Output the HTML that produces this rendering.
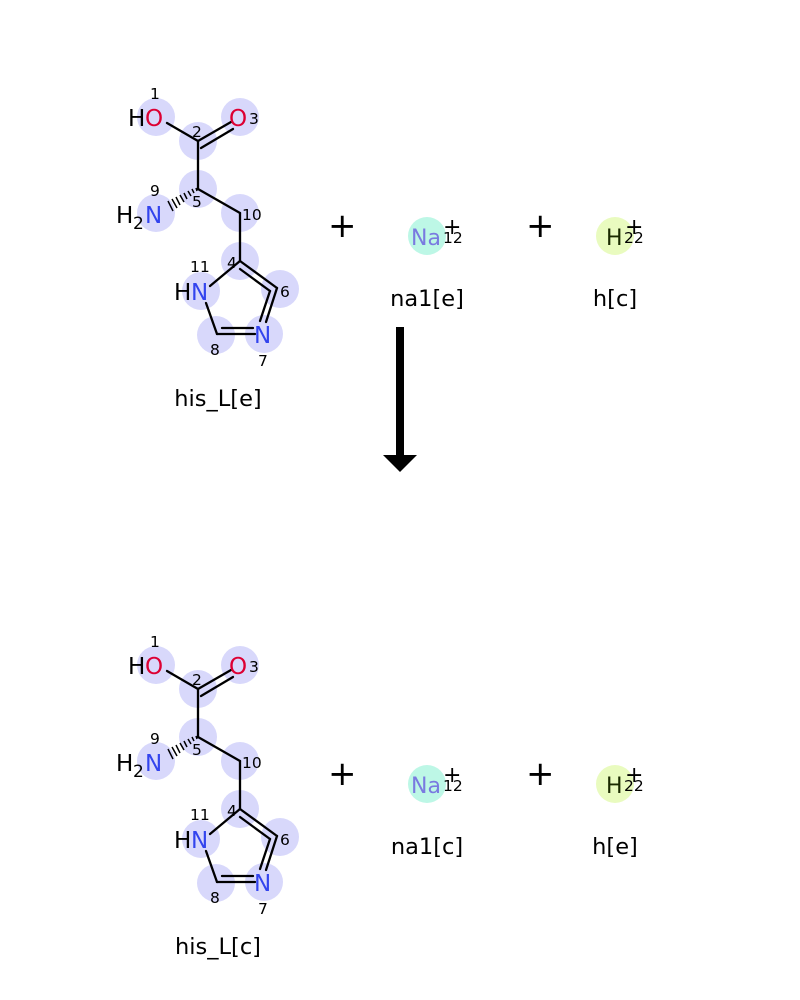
<!DOCTYPE html>
<html><head><meta charset="utf-8"><style>body{margin:0;background:#fff}svg{display:block}</style></head>
<body>
<svg width="800" height="1000" viewBox="0 0 800 1000" xmlns="http://www.w3.org/2000/svg" font-family="DejaVu Sans, Liberation Sans, sans-serif">
<defs>
<g id="mol">
  <g fill="#d8d8fb">
    <circle cx="156" cy="117" r="19"/><circle cx="240" cy="117" r="19"/>
    <circle cx="198" cy="141" r="19"/><circle cx="198" cy="189" r="19"/>
    <circle cx="156" cy="213" r="19"/><circle cx="240" cy="213" r="19"/>
    <circle cx="240" cy="261" r="19"/><circle cx="201" cy="291" r="19"/>
    <circle cx="280" cy="289" r="19"/><circle cx="264" cy="334" r="19"/>
    <circle cx="216" cy="335" r="19"/>
  </g>
  <g stroke="#000" stroke-width="2.3" fill="none" stroke-linecap="round">
    <line x1="167" y1="123" x2="198" y2="141"/>
    <line x1="198" y1="141" x2="231" y2="122"/>
    <line x1="201" y1="148" x2="233" y2="129"/>
    <line x1="198" y1="141" x2="198" y2="189"/>
    <line x1="198" y1="189" x2="240" y2="213"/>
    <line x1="240" y1="213" x2="240" y2="261"/>
    <line x1="240" y1="261" x2="277" y2="288"/>
    <line x1="240" y1="269" x2="270" y2="291"/>
    <line x1="277" y1="288" x2="266" y2="322"/>
    <line x1="270" y1="291" x2="260" y2="321"/>
    <line x1="255" y1="334" x2="217" y2="334"/>
    <line x1="253" y1="328" x2="222" y2="328"/>
    <line x1="217" y1="334" x2="206" y2="303"/>
    <line x1="210" y1="286" x2="240" y2="261"/>
  </g>
  <g stroke="#000" stroke-width="1.5">
    <line x1="196" y1="188" x2="197" y2="191"/>
    <line x1="192" y1="189" x2="194" y2="193"/>
    <line x1="188" y1="191" x2="191" y2="196"/>
    <line x1="184" y1="193" x2="187" y2="199"/>
    <line x1="180" y1="195" x2="184" y2="202"/>
    <line x1="176" y1="197" x2="180" y2="205"/>
    <line x1="172" y1="199" x2="177" y2="208"/>
    <line x1="168" y1="201" x2="173" y2="211"/>
  </g>
  <g font-size="23">
    <text x="128" y="126">H</text><text x="145" y="126" fill="#dd0033">O</text>
    <text x="229" y="126" fill="#dd0033">O</text>
    <text x="116" y="223">H</text><text x="133" y="229" font-size="17">2</text><text x="145" y="223" fill="#3344ee">N</text>
    <text x="174" y="300">H</text><text x="191" y="300" fill="#3344ee">N</text>
    <text x="254" y="343" fill="#3344ee">N</text>
  </g>
  <g font-size="15.5">
    <text x="150" y="99">1</text><text x="192" y="137">2</text><text x="249" y="124">3</text>
    <text x="227" y="268">4</text><text x="192" y="207">5</text><text x="280" y="297">6</text>
    <text x="258" y="366">7</text><text x="210" y="355">8</text><text x="150" y="196">9</text>
    <text x="242" y="220">10</text><text x="190" y="272">11</text>
  </g>
</g>
<g id="ions">
  <circle cx="427" cy="236" r="19" fill="#bdf7e6"/>
  <circle cx="615" cy="236" r="19" fill="#e9fbbf"/>
  <text x="411" y="245" font-size="22" fill="#7a7ae0">Na</text>
  <text x="443" y="243" font-size="15.5">12</text>
  <text x="443" y="234" font-size="22">+</text>
  <text x="606" y="245" font-size="22" fill="#1a2a00">H</text>
  <text x="624" y="243" font-size="15.5">22</text>
  <text x="625" y="234" font-size="22">+</text>
  <text x="328" y="237" font-size="34">+</text>
  <text x="526" y="237" font-size="34">+</text>
</g>
</defs>
<use href="#mol"/>
<use href="#ions"/>
<text x="218" y="406" font-size="22.5" text-anchor="middle">his_L[e]</text>
<text x="427" y="306" font-size="22.5" text-anchor="middle">na1[e]</text>
<text x="615" y="306" font-size="22.5" text-anchor="middle">h[c]</text>
<rect x="396" y="327" width="8" height="130" fill="#000"/>
<polygon points="383,455 417,455 400,472" fill="#000"/>
<g transform="translate(0,548)">
<use href="#mol"/>
<use href="#ions"/>
<text x="218" y="406" font-size="22.5" text-anchor="middle">his_L[c]</text>
<text x="427" y="306" font-size="22.5" text-anchor="middle">na1[c]</text>
<text x="615" y="306" font-size="22.5" text-anchor="middle">h[e]</text>
</g>
</svg>
</body></html>
